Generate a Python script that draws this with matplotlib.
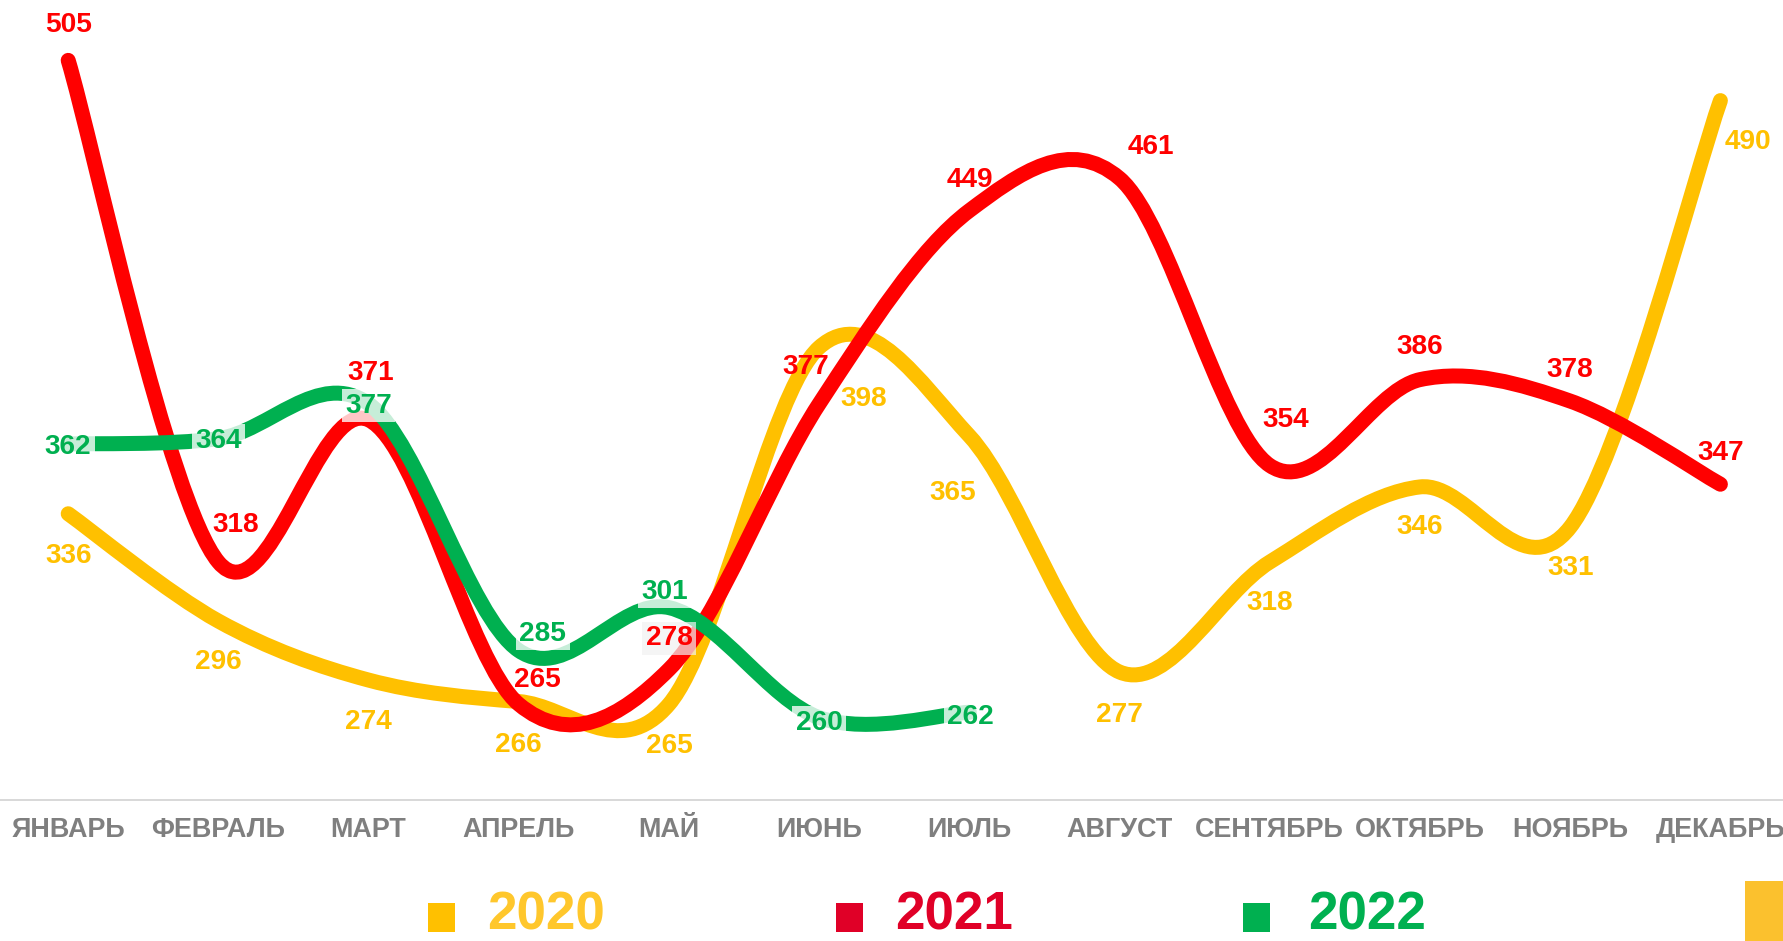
import numpy as np
import matplotlib
matplotlib.use('Agg')
import matplotlib.pyplot as plt
from matplotlib.path import Path
from matplotlib.patches import PathPatch, Rectangle

# данные
months = ['ЯНВАРЬ', 'ФЕВРАЛЬ', 'МАРТ', 'АПРЕЛЬ', 'МАЙ', 'ИЮНЬ',
          'ИЮЛЬ', 'АВГУСТ', 'СЕНТЯБРЬ', 'ОКТЯБРЬ', 'НОЯБРЬ', 'ДЕКАБРЬ']
sales_2020 = [336, 296, 274, 266, 265, 398, 365, 277, 318, 346, 331, 490]
sales_2021 = [505, 318, 371, 265, 278, 377, 449, 461, 354, 386, 378, 347]
sales_2022 = [362, 364, 377, 285, 301, 260, 262]
years = ['2020', '2021', '2022']

# смещения подписей (px)
off_2020 = [(0, -42), (0, -41), (0, -42), (0, -43), (0, -42), (45, -52),
            (-17, -57), (0, -43), (0, -41), (0, -40), (0, -41), (28, -41)]
off_2021 = [(0, 35), (17, 37), (2, 47), (19, 24), (0, 31), (-13, 37),
            (0, 31), (31, 31), (16, 45), (0, 33), (0, 31), (0, 31)]
off_2022 = [(0, -3), (0, -2), (0, -2), (24, 17), (-4, 16), (0, -5), (1, -5)]

YELLOW = '#FFC000'
RED = '#FF0000'
GREEN = '#00B050'

W, H = 1783, 941
DPI = 72
fig = plt.figure(figsize=(W / DPI, H / DPI), dpi=DPI)
ax = fig.add_axes([0, 141 / H, 1, 800 / H])
ax.set_xlim(-68.2 / 150.2, (W - 68.2) / 150.2)
ax.set_ylim(229.3, 527.5)


def smooth_path(xs, ys):
    # сглаженная линия как в Excel (кривые Безье)
    pts = np.column_stack([xs, ys]).astype(float)
    n = len(pts)
    verts = [pts[0]]
    codes = [Path.MOVETO]
    for i in range(n - 1):
        p0 = pts[i - 1] if i > 0 else pts[i]
        p1 = pts[i]
        p2 = pts[i + 1]
        p3 = pts[i + 2] if i + 2 < n else pts[i + 1]
        verts += [p1 + (p2 - p0) / 6, p2 - (p3 - p1) / 6, p2]
        codes += [Path.CURVE4] * 3
    return Path(verts, codes)


series = [(sales_2020, YELLOW, off_2020), (sales_2021, RED, off_2021), (sales_2022, GREEN, off_2022)]
for z, (vals, col, offs) in enumerate(series):
    xs = np.arange(len(vals))
    patch = PathPatch(smooth_path(xs, vals), fill=False, edgecolor=col, lw=15,
                      capstyle='round', joinstyle='round', zorder=2 + z)
    ax.add_patch(patch)

for vals, col, offs in series:
    for i, v in enumerate(vals):
        bbox = None
        if col == GREEN:
            bbox = dict(boxstyle='square,pad=0.12', fc='white', ec='none', alpha=0.78)
        elif col == RED and i == 4:
            bbox = dict(boxstyle='square,pad=0.12', fc='#F2F2F2', ec='none', alpha=0.7)
        ax.annotate(str(v), (i, v), xytext=offs[i], textcoords='offset points',
                    ha='center', va='center', fontsize=28, fontweight='bold',
                    family='Liberation Sans', color=col, bbox=bbox, zorder=10,
                    annotation_clip=False)

ax.set_xticks(range(len(months)))
ax.set_xticklabels(months, fontsize=27, fontweight='bold', color='#7F7F7F',
                   family='Liberation Sans')
ax.tick_params(axis='x', length=0, pad=17)
ax.set_yticks([])
for s in ['top', 'left', 'right']:
    ax.spines[s].set_visible(False)
ax.spines['bottom'].set_color('#D9D9D9')
ax.spines['bottom'].set_linewidth(2)

# легенда
leg_sq = [(428, '#FFC000'), (836, '#E00027'), (1243, '#00B050')]
leg_txt = [(487, '#FFC72C'), (895, '#E00027'), (1308, '#00B050')]
for (sx, sc), (tx, tc), lab in zip(leg_sq, leg_txt, years):
    fig.patches.append(Rectangle((sx / W, (H - 932) / H), 27 / W, 29 / H,
                                 transform=fig.transFigure, fc=sc, ec='none'))
    fig.text(tx / W, 1 / H, lab, fontsize=53, fontweight='bold', color=tc,
             family='Liberation Sans', ha='left', va='bottom')

fig.patches.append(Rectangle((1745 / W, 0), 40 / W, 60 / H, transform=fig.transFigure,
                             fc='#FBC12E', ec='none'))

fig.savefig('out.png', dpi=DPI, facecolor='white')
